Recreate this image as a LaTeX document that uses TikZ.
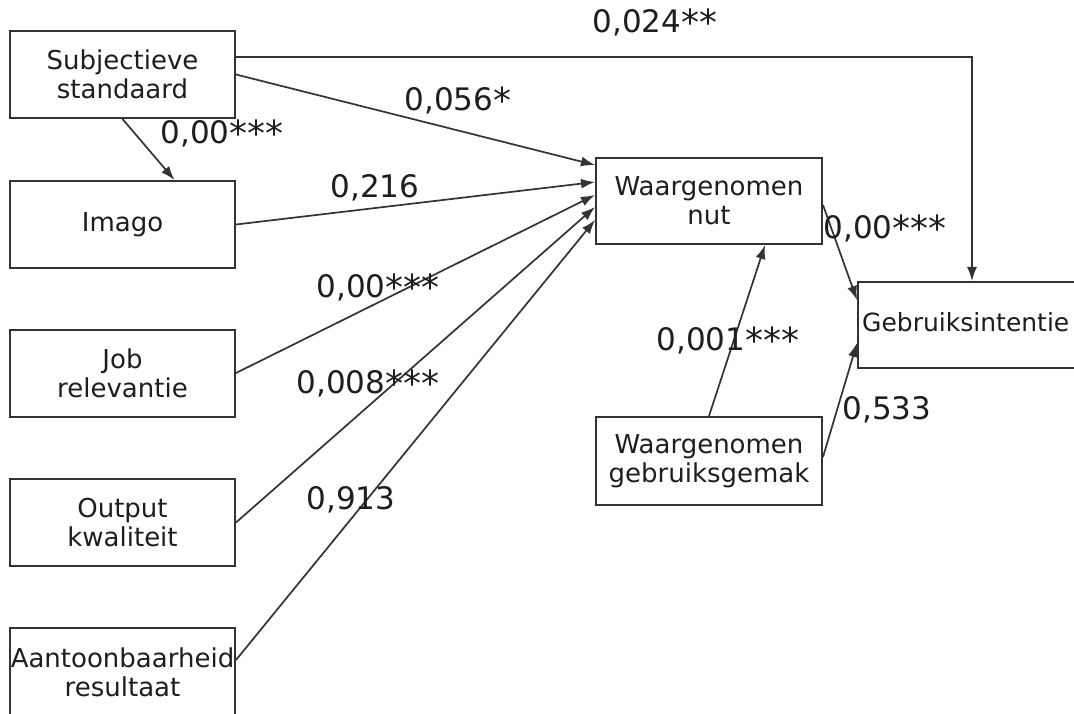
\documentclass[tikz,border=0pt]{standalone}
\usepackage{fontspec}
\setmainfont{DejaVu Sans}
\usetikzlibrary{arrows.meta,calc}
\definecolor{ink}{HTML}{1E1E1E}
\definecolor{linec}{HTML}{333333}
\newcommand\stars[1]{\raisebox{-3pt}{\fontsize{36}{36}\selectfont #1}}
\tikzset{
  boxnode/.style={draw=linec, line width=2pt, minimum width=225pt, minimum height=87pt, inner sep=0pt, align=center, font=\fontsize{26}{29}\selectfont, text=ink},
  lab/.style={font=\fontsize{31}{34}\selectfont, text=ink, inner sep=1pt},
  conn/.style={draw=linec, line width=1.7pt, -{Latex[length=14pt,width=10pt]}},
}
\begin{document}
\begin{tikzpicture}[x=1pt,y=-1pt]
\useasboundingbox[fill=white] (0,0) rectangle (1074,714);
% boxes
\node[boxnode] (subj) at (122.5,74.5) {Subjectieve\\standaard};
\node[boxnode] (imago) at (122.5,224.5) {Imago};
\node[boxnode] (job) at (122.5,373) {Job\\relevantie};
\node[boxnode] (output) at (122.5,522.5) {Output\\kwaliteit};
\node[boxnode, minimum height=88pt] (aant) at (122.5,672) {Aantoonbaarheid\\resultaat};
\node[boxnode, minimum width=226pt, minimum height=86pt] (nut) at (709,201) {Waargenomen\\nut};
\node[boxnode, minimum width=226pt, minimum height=88pt] (gemak) at (709,461) {Waargenomen\\gebruiksgemak};
\node[boxnode, minimum width=228pt, minimum height=86pt] (gebr) at (972,325) {};
\node[font=\fontsize{25}{29}\selectfont, text=ink, anchor=west, inner sep=0pt] (gebrtext) at (862,322) {Gebruiksintentie};
% connectors
\coordinate (corner) at (972,57);
\draw[conn] ([yshift=17.5pt]subj.east) -- (corner) -- (corner |- gebr.north);
\draw[conn] (subj.east) -- ([yshift=36pt]nut.west);
\draw[conn] (subj.south) -- ([xshift=52pt]imago.north);
\draw[conn] (imago.east) -- ([yshift=19pt]nut.west);
\draw[conn] (job.east) -- ([yshift=6pt]nut.west);
\draw[conn] (output.east) -- ([yshift=-6pt]nut.west);
\draw[conn] ([yshift=12pt]aant.east) -- ([yshift=-19pt]nut.west);
\draw[conn] ([yshift=-4pt]nut.east) -- ([yshift=25pt]gebr.west);
\draw[conn] (gemak.north) -- ([xshift=56pt]nut.south);
\draw[conn] ([yshift=4pt]gemak.east) -- ([yshift=-18pt]gebr.west);
% labels
\node[lab] (l024) at (655,22) {0,024\stars{**}};
\node[lab] (l056) at (458,100) {0,056\stars{*}};
\node[lab] (l000a) at (222,133) {0,00\stars{***}};
\node[lab] (l216) at (375,188) {0,216};
\node[lab] (l000b) at (378,287) {0,00\stars{***}};
\node[lab] (l008) at (368,383) {0,008\stars{***}};
\node[lab] (l913) at (351,500) {0,913};
\node[lab] (l000c) at (885,228) {0,00\stars{***}};
\node[lab] (l001) at (728,340) {0,001\stars{***}};
\node[lab] (l533) at (887,410) {0,533};
\end{tikzpicture}
\end{document}
